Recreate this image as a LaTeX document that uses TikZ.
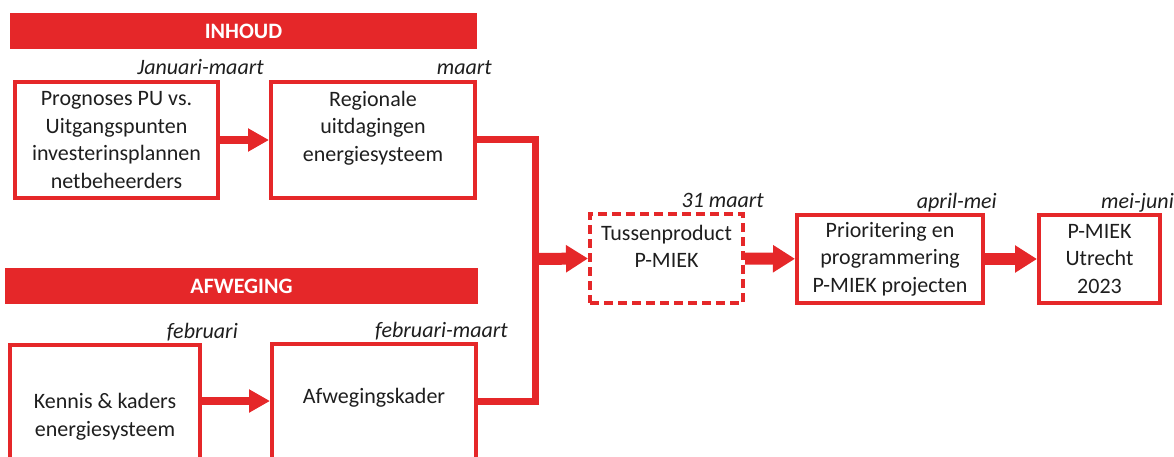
\documentclass[tikz,border=0pt]{standalone}
\usepackage{fontspec}
\setmainfont{Carlito}
\usetikzlibrary{arrows.meta}
\definecolor{pred}{RGB}{229,39,41}
\definecolor{ptext}{RGB}{30,30,30}
\begin{document}
\begin{tikzpicture}[x=1pt,y=-1pt,
  banner/.style={fill=pred, text=white, inner sep=0, minimum height=36pt,
    font=\fontsize{22}{24}\selectfont\bfseries},
  box/.style={draw=pred, line width=4pt, inner sep=0},
  tempbox/.style={box, dash pattern=on 9pt off 5pt},
  txt/.style={text=ptext, inner sep=0, align=center, font=\fontsize{22}{27.5}\selectfont},
  month/.style={text=ptext, inner sep=0, anchor=base east, font=\fontsize{22}{24}\selectfont\itshape},
  link/.style={draw=pred, line width=7pt},
  flow/.style={draw=pred, line width=8pt, -{Triangle[length=21pt,width=22pt]}},
  bigflow/.style={draw=pred, line width=12pt, -{Triangle[length=22pt,width=26pt]}}]
\useasboundingbox (0,0) rectangle (1174,457);
\clip (0,0) rectangle (1174,457);

% banners
\node[banner, minimum width=467pt] (inhoud) at (243.5,31) {INHOUD};
\node[banner, minimum width=473pt] (afweging) at (241.5,286) {AFWEGING};

% boxes
\node[box, minimum width=203pt, minimum height=116pt] (prognose) at (116.5,140) {};
\node[box, minimum width=204pt, minimum height=116pt] (regio) at (373,140) {};
\node[box, minimum width=190pt, minimum height=143pt] (kennis) at (105,416.5) {};
\node[box, minimum width=204pt, minimum height=144pt] (kader) at (374,416) {};
\node[tempbox, minimum width=153pt, minimum height=89pt] (tussen) at (666.5,258.5) {};
\node[box, minimum width=186pt, minimum height=88pt] (prio) at (890,259) {};
\node[box, minimum width=121pt, minimum height=88pt] (pmiek) at (1099.5,259) {};

% box texts
\node[txt] (tprognose) at (prognose) {Prognoses PU vs.\\Uitgangspunten\\investerinsplannen\\netbeheerders};
\node[txt] (tregio) at ([yshift=12pt]regio) {Regionale\\uitdagingen\\energiesysteem};
\node[txt] (tkennis) at (kennis) {Kennis \& kaders\\energiesysteem};
\node[txt] (tkader) at ([yshift=18pt]kader) {Afwegingskader};
\node[txt] (ttussen) at ([yshift=12pt]tussen) {Tussenproduct\\P-MIEK};
\node[txt] (tprio) at (prio) {Prioritering en\\programmering\\P-MIEK projecten};
\node[txt] (tpmiek) at (pmiek) {P-MIEK\\Utrecht\\2023};

% months
\node[month] (mprognose) at ([xshift=44pt,yshift=5pt]prognose.north east) {Januari-maart};
\node[month] (mregio) at ([xshift=15pt,yshift=5pt]regio.north east) {maart};
\node[month] (mkennis) at ([xshift=36pt,yshift=5pt]kennis.north east) {februari};
\node[month] (mkader) at ([xshift=30pt,yshift=5pt]kader.north east) {februari-maart};
\node[month] (mtussen) at ([xshift=19pt,yshift=5pt]tussen.north east) {31 maart};
\node[month] (mprio) at ([xshift=12pt,yshift=5pt]prio.north east) {april-mei};
\node[month] (mpmiek) at ([xshift=12pt,yshift=5pt]pmiek.north east) {mei-juni};

% connectors
\coordinate (join) at (535,259);
\coordinate (joinlow) at (535,401);
\path[flow] (prognose) -- (regio);
\path[flow] (kennis.east |- joinlow) -- (kader.west |- joinlow);
\path[link] (regio.east) -| (join);
\path[link] (kader.east |- joinlow) -| (join);
\path[bigflow] (join) -- (tussen.west);
\path[bigflow] (tussen) -- (prio);
\path[bigflow] (prio) -- (pmiek);
\end{tikzpicture}
\end{document}
